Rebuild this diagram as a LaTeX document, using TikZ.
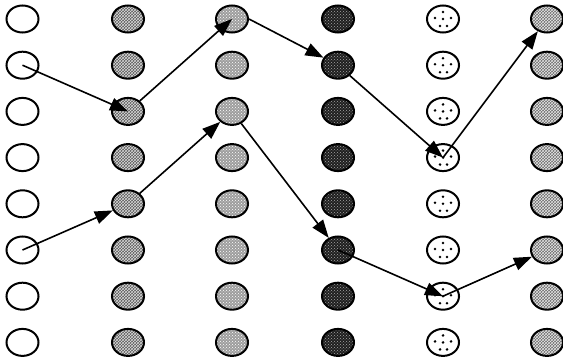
\documentclass[tikz,border=0pt]{standalone}
\usetikzlibrary{shapes.geometric,arrows.meta,patterns}
\begin{document}
\begin{tikzpicture}[x=1pt,y=-1pt,
  blob/.style={ellipse, draw=black, line width=2pt, minimum width=32pt, minimum height=27pt, inner sep=0pt},
  colA/.style={blob, fill=white},
  colB/.style={blob, preaction={fill=black!65}, pattern=crosshatch, pattern color=white!85!black},
  colC/.style={blob, preaction={fill=black!38}, pattern=crosshatch dots, pattern color=white},
  colD/.style={blob, preaction={fill=black!88}, pattern=crosshatch dots, pattern color=white!65!black},
  colE/.style={blob, fill=white},
  colF/.style={blob, preaction={fill=black!58}, pattern=crosshatch, pattern color=white!90!black},
  link/.style={line width=1.6pt, -{Triangle[length=18pt,width=13pt]}}
]
\useasboundingbox (0,0) rectangle (563,364);
\foreach \r in {1,...,8} {
  \node[colA] (n-1-\r) at (22.5, {19+46.2*(\r-1)}) {};
  \node[colB] (n-2-\r) at (128, {19+46.2*(\r-1)}) {};
  \node[colC] (n-3-\r) at (232, {19+46.2*(\r-1)}) {};
  \node[colD] (n-4-\r) at (338, {19+46.2*(\r-1)}) {};
  \node[colE] (n-5-\r) at (443, {19+46.2*(\r-1)}) {};
  \node[colF] (n-6-\r) at (547, {19+46.2*(\r-1)}) {};
}
\foreach \r in {1,...,8} {
  \foreach \dx/\dy in {0/-7, -8/-1, 0/0, 8/-1, -3/7, 4/7} {
    \fill ([shift={(\dx,\dy)}]n-5-\r.center) circle (1.4pt);
  }
}
% upper path
\draw[link] (n-1-2.center) -- (n-2-3.center);
\draw[link] (n-2-3) -- (n-3-1.center);
\draw[link] (n-3-1.east) -- (n-4-2);
\draw[link] (n-4-2) -- (n-5-4.center);
\draw[link] (n-5-4.center) -- (n-6-1);
% lower path
\draw[link] (n-1-6.center) -- (n-2-5);
\draw[link] (n-2-5) -- (n-3-3);
\draw[link] (n-3-3) -- (n-4-6);
\draw[link] (n-4-6.center) -- (n-5-7.center);
\draw[link] (n-5-7.center) -- (n-6-6);
\end{tikzpicture}
\end{document}
